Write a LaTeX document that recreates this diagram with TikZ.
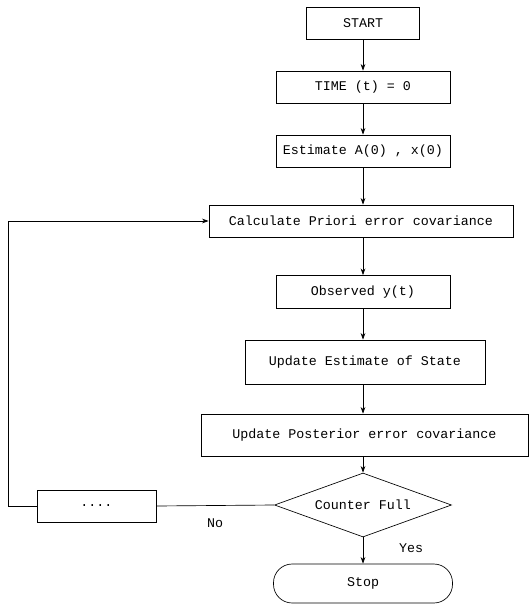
\documentclass[tikz,border=0pt]{standalone}
\usepackage{fontspec}
\setmonofont{Liberation Mono}
\usetikzlibrary{shapes.geometric,arrows.meta}

\begin{document}
\begin{tikzpicture}[x=0.75pt,y=0.75pt,yscale=-1,xscale=1,
    every node/.style={font=\ttfamily\fontsize{10}{12}\selectfont},
    stepbox/.style={draw,line width=0.5pt,rectangle,inner sep=2pt},
    flow/.style={line width=0.5pt,-{Stealth[length=5pt,width=3.5pt]}}]
        %set diagram frame
        \useasboundingbox (0,0) rectangle (528,609);

        % Process boxes
        \node [stepbox,minimum width=113*0.75pt,minimum height=32*0.75pt] (start) at (363,23) {START};
        \node [stepbox,minimum width=174*0.75pt,minimum height=32*0.75pt] (time) at (363,87) {TIME (t) = 0};
        \node [stepbox,minimum width=174*0.75pt,minimum height=32*0.75pt] (init) at (363,151) {Estimate A(0) , x(0)};
        \node [stepbox,minimum width=304*0.75pt,minimum height=32*0.75pt] (prior) at (361,221) {Calculate Priori error covariance};
        \node [stepbox,minimum width=174*0.75pt,minimum height=33*0.75pt] (obs) at (363,292) {Observed y(t)};
        \node [stepbox,minimum width=240*0.75pt,minimum height=44*0.75pt] (state) at (365,362) {Update Estimate of State};
        \node [stepbox,minimum width=327*0.75pt,minimum height=42*0.75pt] (post) at (364.5,435) {Update Posterior error covariance};

        % Decision
        \node [draw,line width=0.5pt,diamond,aspect=2.77,inner sep=0pt,minimum width=177*0.75pt,minimum height=64*0.75pt] (full) at (363,505) {Counter Full};

        % Stop and counter step
        \node [draw,line width=0.5pt,rectangle,rounded corners=14pt,minimum width=179*0.75pt,minimum height=39*0.75pt] (stop) at (363,583.5) {Stop};
        \node [stepbox,minimum width=119*0.75pt,minimum height=32*0.75pt] (count) at (96.5,506) {....};
        \coordinate (turn) at (8,506);

        % Connectors (vertical, on the axis of START)
        \draw [flow] (start.south) -- (start.south |- time.north);
        \draw [flow] (time.south) -- (time.south |- init.north);
        \draw [flow] (init.south) -- (init.south |- prior.north);
        \draw [flow] (init.south |- prior.south) -- (init.south |- obs.north);
        \draw [flow] (obs.south) -- (obs.south |- state.north);
        \draw [flow] (obs.south |- state.south) -- (obs.south |- post.north);
        \draw [flow] (obs.south |- post.south) -- (full.north);
        \draw [flow] (full.south) -- (stop.north);
        \draw [line width=0.5pt] (full.west) -- (count.east);
        \draw [flow] (count.west) -- (turn) |- (prior.west);

        % Text Node
        \node (no) at (215,523) {No};
        % Text Node
        \node (yes) at (411,548) {Yes};

\end{tikzpicture}
\end{document}
